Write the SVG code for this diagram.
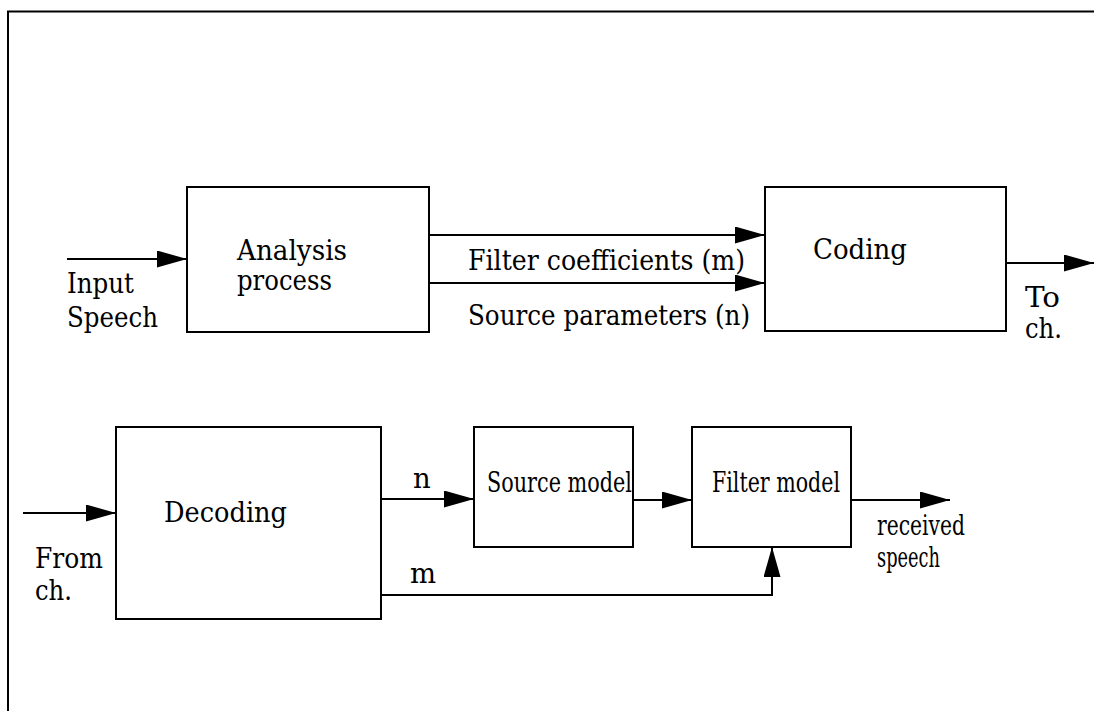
<svg xmlns="http://www.w3.org/2000/svg" width="1094" height="711" viewBox="0 0 1094 711">
<defs>
<marker id="ah" markerWidth="30" markerHeight="17" refX="30" refY="8.5" orient="auto" markerUnits="userSpaceOnUse">
<path d="M0,0 L30,8.5 L0,17 Z" fill="#000"/>
</marker>
<style>
.box{fill:none;stroke:#000;stroke-width:2}
.ln{fill:none;stroke:#000;stroke-width:2}
text{font-family:'DejaVu Serif','Liberation Serif',serif;font-size:27.5px;fill:#000}
</style>
</defs>
<rect width="1094" height="711" fill="#fff"/>
<path class="ln" d="M8,711 V11.5 H1094" stroke-width="3"/>
<g id="analysis">
<rect class="box" x="187" y="187" width="242" height="145"/>
<text x="237" y="260" textLength="110" lengthAdjust="spacingAndGlyphs">Analysis</text>
<text x="237" y="290" textLength="95" lengthAdjust="spacingAndGlyphs">process</text>
</g>
<g id="coding">
<rect class="box" x="765" y="187" width="241" height="144"/>
<text x="813" y="259" textLength="94" lengthAdjust="spacingAndGlyphs">Coding</text>
</g>
<g id="decoding">
<rect class="box" x="116" y="427" width="265" height="192"/>
<text x="164" y="522" textLength="123" lengthAdjust="spacingAndGlyphs">Decoding</text>
</g>
<g id="source-model">
<rect class="box" x="474" y="427" width="159" height="120"/>
<text x="487" y="492" textLength="145" lengthAdjust="spacingAndGlyphs">Source model</text>
</g>
<g id="filter-model">
<rect class="box" x="692" y="427" width="159" height="120"/>
<text x="712" y="492" textLength="128" lengthAdjust="spacingAndGlyphs">Filter model</text>
</g>
<g id="connectors">
<line class="ln" x1="67" y1="259" x2="187" y2="259" marker-end="url(#ah)"/>
<line class="ln" x1="429" y1="235" x2="765" y2="235" marker-end="url(#ah)"/>
<line class="ln" x1="429" y1="283" x2="765" y2="283" marker-end="url(#ah)"/>
<line class="ln" x1="1006" y1="263" x2="1094" y2="263" marker-end="url(#ah)"/>
<line class="ln" x1="23" y1="513" x2="116" y2="513" marker-end="url(#ah)"/>
<line class="ln" x1="381" y1="499" x2="474" y2="499" marker-end="url(#ah)"/>
<line class="ln" x1="633" y1="500" x2="692" y2="500" marker-end="url(#ah)"/>
<line class="ln" x1="851" y1="500" x2="950" y2="500" marker-end="url(#ah)"/>
<polyline class="ln" points="381,595 772,595 772,547" marker-end="url(#ah)"/>
</g>
<g id="labels">
<text x="67" y="293" textLength="67" lengthAdjust="spacingAndGlyphs">Input</text>
<text x="67" y="327" textLength="91" lengthAdjust="spacingAndGlyphs">Speech</text>
<text x="468" y="270" textLength="277" lengthAdjust="spacingAndGlyphs">Filter coefficients (m)</text>
<text x="468" y="325" textLength="282" lengthAdjust="spacingAndGlyphs">Source parameters (n)</text>
<text x="1025" y="307" textLength="35" lengthAdjust="spacingAndGlyphs">To</text>
<text x="1025" y="338" textLength="37" lengthAdjust="spacingAndGlyphs">ch.</text>
<text x="35" y="568" textLength="68" lengthAdjust="spacingAndGlyphs">From</text>
<text x="35" y="600" textLength="37" lengthAdjust="spacingAndGlyphs">ch.</text>
<text x="413" y="488">n</text>
<text x="410" y="583">m</text>
<text x="877" y="535" textLength="88" lengthAdjust="spacingAndGlyphs">received</text>
<text x="877" y="567" textLength="63" lengthAdjust="spacingAndGlyphs">speech</text>
</g>
</svg>
